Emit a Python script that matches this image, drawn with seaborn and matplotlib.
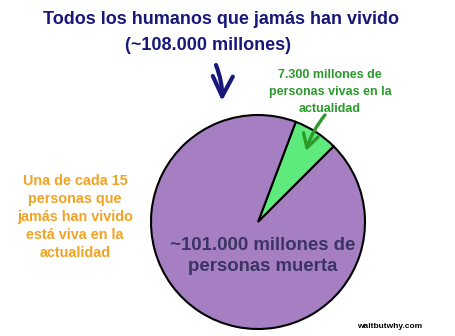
import matplotlib
matplotlib.use("Agg")
import matplotlib.pyplot as plt
import seaborn as sns

sns.set_theme(style="white")
plt.rcParams['font.family'] = ['Liberation Sans', 'DejaVu Sans']

# Data (billions)
categories = ["Vivas en la actualidad", "Muertas"]
values = [7.3, 100.7]
colors = ["#5eea7c", "#a67fc2"]

title_line1 = "Todos los humanos que jamás han vivido"
title_line2 = "(~108.000 millones)"
living_label = "7.300 millones de\npersonas vivas en la\nactualidad"
dead_label = "~101.000 millones de\npersonas muerta"
side_label = "Una de cada 15\npersonas que\njamás han vivido\nestá viva en la\nactualidad"
source = "waitbutwhy.com"

W, H = 455, 336
fig = plt.figure(figsize=(W / 100, H / 100), dpi=100)
ax = fig.add_axes([0, 0, 1, 1])
ax.set_xlim(0, W)
ax.set_ylim(0, H)
ax.set_aspect("equal")
ax.axis("off")

def Y(py):
    return H - py

ax.pie(values, colors=colors, startangle=45, counterclock=True,
       center=(258, Y(222)), radius=107,
       wedgeprops=dict(edgecolor="black", linewidth=1.5))
ax.set_xlim(0, W)
ax.set_ylim(0, H)

navy = "#18187a"
ax.text(221, Y(20), title_line1, ha="center", va="center", color=navy,
        fontsize=13, fontweight="bold")
ax.text(208, Y(46), title_line2, ha="center", va="center", color=navy,
        fontsize=13, fontweight="bold")

ax.annotate("", xy=(222, Y(101)), xytext=(216, Y(65)),
            arrowprops=dict(arrowstyle="->,head_length=1.2,head_width=0.6",
                            color=navy, lw=3.0, shrinkA=0, shrinkB=0,
                            connectionstyle="arc3,rad=-0.1"))

green = "#2a9a2a"
ax.text(330, Y(92), living_label, ha="center", va="center", color=green,
        fontsize=9, fontweight="bold", linespacing=1.5)
ax.annotate("", xy=(306, Y(151)), xytext=(325, Y(115)),
            arrowprops=dict(arrowstyle="->,head_length=0.8,head_width=0.45",
                            color=green, lw=2.4, shrinkA=0, shrinkB=0,
                            connectionstyle="arc3,rad=0.1"))

orange = "#f0a325"
ax.text(75, Y(217), side_label, ha="center", va="center", color=orange,
        fontsize=10.4, fontweight="bold", linespacing=1.35)

ax.text(263, Y(256), dead_label, ha="center", va="center", color="#3b3463",
        fontsize=13.4, fontweight="bold", linespacing=1.35)

ax.text(390, Y(327), source, ha="center", va="center", color="black",
        fontsize=6, fontweight="bold")

fig.savefig("out.png", dpi=100, facecolor="white")
